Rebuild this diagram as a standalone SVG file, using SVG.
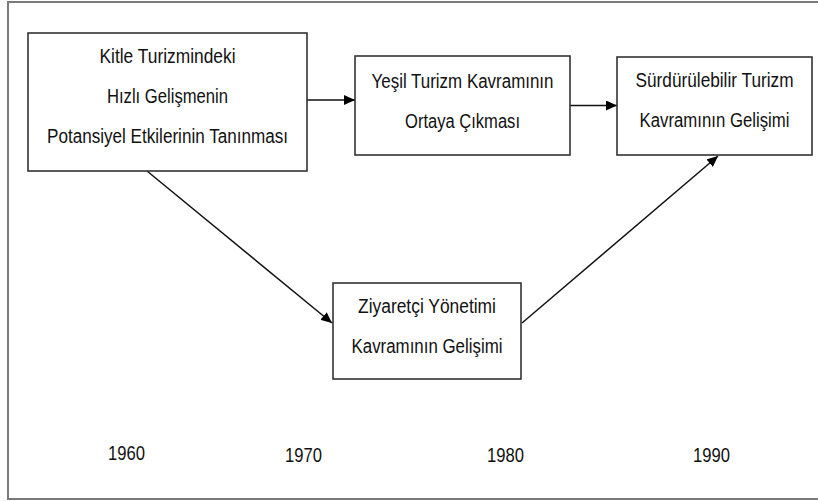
<svg xmlns="http://www.w3.org/2000/svg" width="818" height="501" viewBox="0 0 818 501">
<style>
.frame{fill:none;stroke:#7a7a7a;stroke-width:2}
.box{fill:#fff;stroke:#333;stroke-width:1.6}
.t{font-family:"Liberation Sans",Arial,sans-serif;font-size:19.5px;fill:#111;text-anchor:middle}
.c{stroke:#111;stroke-width:1.5;fill:none;marker-end:url(#ah)}
</style>
<defs>
<marker id="ah" markerWidth="11" markerHeight="10" refX="11" refY="5" orient="auto" markerUnits="userSpaceOnUse">
<path d="M0,0 L11,5 L0,10 z" fill="#000"/>
</marker>
</defs>
<rect width="818" height="501" fill="#fff"/>
<rect class="frame" x="8" y="2" width="830" height="497"/>
<g id="connectors">
<line class="c" x1="307" y1="100" x2="355" y2="100"/>
<line class="c" x1="570" y1="105.5" x2="617" y2="105.5"/>
<line class="c" x1="147" y1="171" x2="332" y2="323"/>
<line class="c" x1="522" y1="323" x2="718" y2="156"/>
</g>
<g id="n1">
<rect class="box" x="28" y="33" width="279" height="138"/>
<text class="t" x="167.5" y="63" textLength="136" lengthAdjust="spacingAndGlyphs">Kitle Turizmindeki</text>
<text class="t" x="167.5" y="103" textLength="121" lengthAdjust="spacingAndGlyphs">Hızlı Gelişmenin</text>
<text class="t" x="167.5" y="143" textLength="241" lengthAdjust="spacingAndGlyphs">Potansiyel Etkilerinin Tanınması</text>
</g>
<g id="n2">
<rect class="box" x="355" y="56" width="215" height="99"/>
<text class="t" x="462.5" y="88" textLength="182" lengthAdjust="spacingAndGlyphs">Yeşil Turizm Kavramının</text>
<text class="t" x="462.5" y="128" textLength="115" lengthAdjust="spacingAndGlyphs">Ortaya Çıkması</text>
</g>
<g id="n3">
<rect class="box" x="617" y="57" width="195" height="98"/>
<text class="t" x="714.5" y="87" textLength="158" lengthAdjust="spacingAndGlyphs">Sürdürülebilir Turizm</text>
<text class="t" x="714.5" y="127" textLength="150" lengthAdjust="spacingAndGlyphs">Kavramının Gelişimi</text>
</g>
<g id="n4">
<rect class="box" x="333" y="283" width="188" height="96"/>
<text class="t" x="427" y="313" textLength="138" lengthAdjust="spacingAndGlyphs">Ziyaretçi Yönetimi</text>
<text class="t" x="427" y="353" textLength="151" lengthAdjust="spacingAndGlyphs">Kavramının Gelişimi</text>
</g>
<g id="years">
<text class="t" x="126.5" y="460" textLength="37" lengthAdjust="spacingAndGlyphs">1960</text>
<text class="t" x="303.5" y="461.5" textLength="37" lengthAdjust="spacingAndGlyphs">1970</text>
<text class="t" x="505.5" y="461.5" textLength="37" lengthAdjust="spacingAndGlyphs">1980</text>
<text class="t" x="711.5" y="461.5" textLength="37" lengthAdjust="spacingAndGlyphs">1990</text>
</g>
</svg>
